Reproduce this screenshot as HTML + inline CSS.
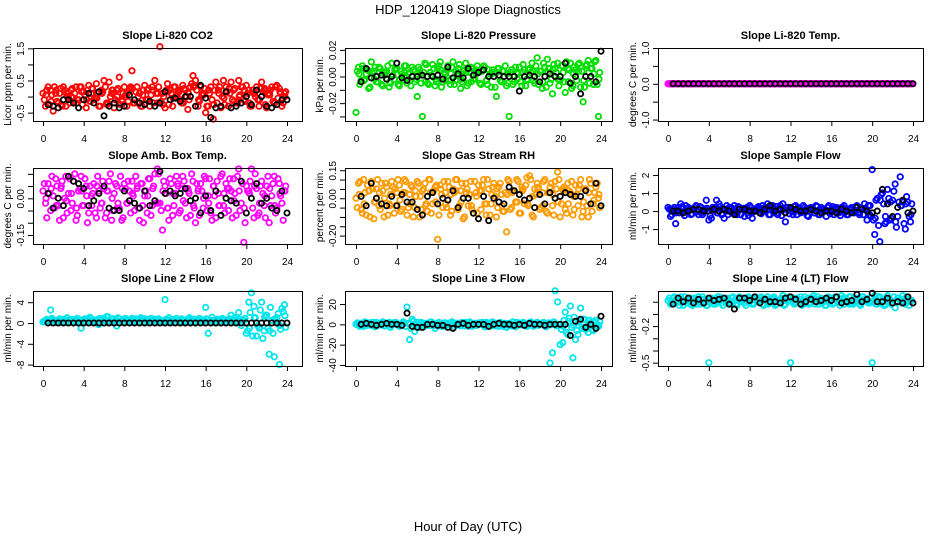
<!DOCTYPE html>
<html><head><meta charset="utf-8"><style>
html,body{margin:0;padding:0;background:#fff;}
svg{display:block;font-family:"Liberation Sans",Arial,sans-serif;}
</style></head><body>
<svg id="chart" width="936" height="540" viewBox="0 0 936 540">
<text x="468" y="14" font-size="13" text-anchor="middle">HDP_120419  Slope Diagnostics</text>
<text x="468" y="531" font-size="13" text-anchor="middle">Hour of Day (UTC)</text>
</svg>
<script>
// ---- data ----
const xTicks = [0,4,8,12,16,20,24];
const xTickLabels = ["0","4","8","12","16","20","24"];

const co2Main = [0.1,-0.3,0.3,0.2,-0.45,0.1,-0.2,0.25,0.3,-0.3,0.0,0.2,-0.2,0.3,-0.1,0.3,0.15,-0.35,0.35,0.1,-0.1,0.4,-0.3,0.2,0.5,-0.2,0.45,0.1,-0.35,0.2,0.6,-0.1,0.3,-0.3,0.25,0.8,-0.2,0.3,0.1,-0.3,0.35,0.2,-0.3,0.3,0.5,-0.2,1.55,0.1,-0.35,0.4,0.2,-0.3,0.3,0.1,-0.1,0.35,0.2,-0.4,0.3,0.65,0.5,-0.3,0.3,0.1,-0.5,-0.3,0.3,-0.7,0.45,0.2,-0.35,0.5,0.3,-0.3,0.45,0.2,-0.2,0.5,0.3,-0.1,0.35,0.2,-0.3,0.1,0.3,-0.3,0.45,0.2,-0.35,0.1,0.3,-0.2,0.35,0.25,-0.3,0.1];
const co2Band = [0.05,-0.15,0.2,-0.25,0.1,0.0,-0.2,0.15,-0.1,0.25,-0.05,0.1,-0.25,0.2,0.0,-0.15,0.1,0.25,-0.2,0.05,-0.1,0.2,0.1,-0.25,0.15,-0.05,0.2,-0.2,0.1,0.3,-0.1,0.05,0.2,-0.25,0.1,-0.05,0.25,-0.15,0.0,0.2,-0.2,0.1,-0.1,0.25,0.05,-0.2,0.15,0.0];
const co2Dense = [-0.1,0.2,-0.25,0.05,0.3,-0.15,0.1,-0.3,0.2,0.0,-0.2,0.25,0.1,-0.1,0.3,-0.25,0.05,0.2,-0.15,0.25,-0.05,0.1,-0.3,0.15,0.3,-0.2,0.0,0.2,-0.1,0.25,-0.25,0.1,0.05,-0.15,0.3,-0.2,0.15,0.0,-0.3,0.2,-0.1,0.25,0.05,-0.2,0.1,0.3,-0.15,0.0,0.2,-0.25,0.1,0.3,-0.05,0.15,-0.2,0.25,0.0,-0.1,0.4,0.35,0.2,-0.15,0.05,0.25,-0.3,0.1,-0.1,0.2,-0.2,0.3,0.0,-0.25,0.15,0.1,-0.1,0.25,-0.2,0.05,0.3,-0.15,0.1,-0.3,0.2,0.0,-0.1,0.25,0.15,-0.25,0.05,0.2,-0.15,0.3,-0.05,0.1,-0.2,0.15];
const co2Black = [-0.25,-0.3,-0.35,-0.1,-0.1,-0.2,-0.35,-0.1,0.1,-0.2,0.15,-0.6,-0.3,-0.2,-0.35,-0.3,0.05,-0.1,-0.2,-0.25,-0.15,-0.3,-0.2,0.15,-0.1,-0.05,-0.15,0.0,0.0,-0.3,0.35,-0.05,-0.65,-0.35,-0.3,0.15,-0.35,-0.3,-0.2,0.0,-0.25,0.2,0.0,-0.3,-0.35,-0.25,-0.1,-0.1];

const presMain = [-0.027,0.007,-0.003,0.006,0.002,-0.009,0.011,0.004,-0.004,0.007,-0.006,0.003,0.004,-0.008,0.010,-0.002,0.006,-0.007,0.002,0.008,-0.005,0.003,0.007,-0.004,-0.015,0.005,-0.030,0.010,-0.005,0.003,0.009,-0.007,0.006,0.011,-0.004,0.002,0.008,-0.006,0.011,-0.003,0.006,-0.009,0.004,0.010,-0.005,0.007,-0.002,0.005,0.004,-0.006,0.008,-0.003,0.005,-0.008,0.003,-0.015,0.006,-0.004,0.004,-0.007,-0.030,0.005,-0.004,0.003,0.007,-0.007,0.005,-0.002,0.006,0.010,-0.005,0.014,0.004,-0.009,0.007,0.013,-0.005,-0.013,0.006,0.010,-0.003,0.008,-0.012,0.006,0.010,-0.007,0.005,0.009,-0.008,-0.019,0.008,0.012,0.006,-0.006,0.012,-0.030];
const presBand = [0.002,-0.003,0.004,-0.002,0.003,0.001,-0.004,0.005,-0.002,0.003,-0.003,0.004,0.002,-0.004,0.003,-0.002,0.005,-0.003,0.002,0.004,-0.002,0.003,-0.004,0.002,0.004,-0.003,0.002,0.003,-0.004,0.002,0.005,-0.002,0.003,-0.003,0.004,0.002,-0.004,0.003,0.005,-0.002,0.003,-0.004,0.002,0.004,-0.003,0.003,0.002,-0.002];
const presDense = [0.004,-0.006,0.008,-0.002,0.005,-0.008,0.002,0.007,-0.004,0.006,-0.007,0.003,0.008,-0.005,0.001,0.006,-0.006,0.004,-0.003,0.008,0.002,-0.007,0.005,-0.002,0.007,-0.005,0.003,0.009,-0.006,0.001,0.006,-0.004,0.008,-0.008,0.003,0.005,-0.003,0.007,-0.006,0.002,0.009,-0.004,0.005,-0.007,0.003,0.006,-0.002,0.008,-0.005,0.004,0.007,-0.006,0.002,0.005,-0.008,0.006,-0.003,0.004,0.008,-0.005,0.003,-0.006,0.007,0.002,-0.004,0.009,-0.007,0.005,0.003,-0.003,0.008,-0.006,0.004,0.010,-0.008,0.006,-0.002,0.009,0.003,-0.007,0.008,-0.004,0.011,0.005,-0.009,0.007,-0.003,0.010,0.004,-0.008,0.009,-0.005,0.006,0.011,-0.006,0.003];
const presBlack = [-0.004,0.006,-0.001,0.000,0.001,-0.002,0.000,0.010,-0.001,-0.003,0.000,0.000,0.001,0.000,0.000,0.001,-0.002,0.007,-0.001,0.002,-0.001,0.006,0.001,0.003,0.005,0.000,0.000,0.001,0.000,0.000,0.000,-0.011,0.000,0.001,0.000,-0.004,0.000,0.002,0.000,0.000,0.010,-0.005,0.000,-0.013,0.000,0.000,-0.004,0.019];

const tempMain = [0,0,0,0,0,0,0,0,0,0,0,0,0,0,0,0,0,0,0,0,0,0,0,0,0,0,0,0,0,0,0,0,0,0,0,0,0,0,0,0,0,0,0,0,0,0,0,0,0,0,0,0,0,0,0,0,0,0,0,0,0,0,0,0,0,0,0,0,0,0,0,0,0,0,0,0,0,0,0,0,0,0,0,0,0,0,0,0,0,0,0,0,0,0,0,0];
const tempBand = [0,0,0,0,0,0,0,0,0,0,0,0,0,0,0,0,0,0,0,0,0,0,0,0,0,0,0,0,0,0,0,0,0,0,0,0,0,0,0,0,0,0,0,0,0,0,0,0];
const tempDense = [0,0,0,0,0,0,0,0,0,0,0,0,0,0,0,0,0,0,0,0,0,0,0,0,0,0,0,0,0,0,0,0,0,0,0,0,0,0,0,0,0,0,0,0,0,0,0,0,0,0,0,0,0,0,0,0,0,0,0,0,0,0,0,0,0,0,0,0,0,0,0,0,0,0,0,0,0,0,0,0,0,0,0,0,0,0,0,0,0,0,0,0,0,0,0,0];
const tempBlack = [0,0,0,0,0,0,0,0,0,0,0,0,0,0,0,0,0,0,0,0,0,0,0,0,0,0,0,0,0,0,0,0,0,0,0,0,0,0,0,0,0,0,0,0,0,0,0,0];

const boxMain = [0.03,-0.02,0.06,-0.05,0.01,0.08,-0.03,0.04,-0.08,0.09,0.02,-0.05,0.07,-0.09,0.03,0.09,-0.03,0.05,-0.06,0.01,0.06,-0.08,0.03,-0.02,0.04,-0.06,0.07,-0.09,0.02,0.05,-0.04,-0.09,0.06,-0.02,0.03,0.07,-0.05,0.04,-0.09,0.06,0.01,-0.06,0.08,-0.03,0.10,0.12,-0.02,-0.13,0.05,-0.04,0.08,-0.07,0.02,0.06,-0.05,0.09,-0.02,0.04,-0.07,0.07,-0.10,0.03,0.06,-0.04,0.08,0.01,-0.06,0.05,-0.08,0.02,0.09,-0.03,0.06,-0.05,0.03,0.08,-0.07,0.12,-0.02,-0.18,0.05,0.03,0.12,-0.08,0.04,-0.06,0.07,-0.03,0.05,-0.10,0.01,0.09,-0.04,0.06,-0.02,0.03];
const boxBand = [0.00,0.04,-0.03,0.05,-0.01,0.02,-0.04,0.03,0.01,-0.03,0.05,-0.02,0.03,0.00,-0.04,0.04,-0.02,0.02,0.05,-0.03,0.01,0.04,-0.02,0.03,-0.04,0.02,0.05,-0.01,0.03,-0.03,0.04,0.00,-0.02,0.05,-0.03,0.02,0.04,-0.01,0.03,-0.04,0.02,0.05,-0.02,0.01,0.04,-0.03,0.02,0.03];
const boxDense = [0.06,-0.08,0.02,0.09,-0.04,0.05,-0.09,0.07,0.0,-0.06,0.08,-0.02,0.1,-0.07,0.04,-0.03,0.08,-0.1,0.05,0.02,-0.06,0.09,-0.04,0.07,-0.08,0.03,0.1,-0.05,0.06,-0.02,0.09,-0.08,0.04,0.07,-0.06,0.01,0.09,-0.04,0.06,-0.1,0.03,0.08,-0.07,0.05,-0.02,0.1,-0.05,0.07,0.02,-0.09,0.06,-0.03,0.09,-0.06,0.04,0.07,-0.08,0.02,0.1,-0.04,0.06,-0.07,0.03,0.09,-0.05,0.08,-0.09,0.01,0.07,-0.03,0.1,-0.06,0.04,0.08,-0.08,0.02,0.09,-0.05,0.06,-0.1,0.03,0.07,-0.04,0.1,-0.07,0.05,0.02,-0.08,0.09,-0.03,0.06,-0.06,0.08,0.01,-0.09,0.05];
const boxBlack = [0.02,-0.04,0.00,-0.03,0.09,0.07,0.06,0.04,-0.03,-0.01,0.02,0.05,-0.04,-0.05,-0.05,0.03,-0.01,-0.02,-0.04,0.03,-0.03,-0.01,0.11,0.02,0.03,0.01,0.02,0.04,-0.01,0.00,-0.06,0.01,-0.05,0.03,-0.07,0.00,-0.01,-0.02,0.07,-0.06,0.00,0.06,-0.02,0.00,-0.04,-0.05,0.03,-0.06];

const rhMain = [0.00,0.08,-0.06,0.10,-0.09,0.04,0.09,-0.11,0.05,-0.04,0.08,-0.10,0.06,-0.03,0.09,-0.08,0.03,0.07,-0.06,0.10,-0.09,0.02,0.06,-0.05,0.09,-0.10,0.04,0.08,-0.07,0.10,-0.03,0.06,-0.22,0.07,-0.05,0.03,0.09,-0.09,0.05,0.10,-0.06,0.04,-0.11,0.08,-0.04,0.09,-0.08,0.03,0.07,-0.06,0.10,-0.09,0.05,-0.03,0.08,-0.10,0.06,0.02,-0.07,-0.18,0.09,-0.05,0.04,0.10,-0.08,0.06,-0.03,0.11,0.12,-0.09,0.05,0.08,-0.06,0.03,0.10,-0.08,0.06,-0.04,0.09,0.14,-0.10,0.05,-0.06,0.08,0.03,-0.09,0.07,-0.04,0.10,-0.07,0.05,-0.10,0.08,-0.03,0.06,0.00];
const rhBand = [0.02,-0.03,0.04,-0.02,0.03,0.00,-0.04,0.05,-0.01,0.03,-0.03,0.04,0.01,-0.04,0.03,-0.02,0.05,-0.03,0.02,0.04,-0.02,0.03,-0.04,0.01,0.04,-0.03,0.02,0.05,-0.04,0.02,0.03,-0.02,0.04,-0.03,0.01,0.05,-0.04,0.03,0.02,-0.02,0.04,-0.03,0.01,0.05,-0.02,0.03,-0.01,0.02];
const rhDense = [-0.05,0.09,-0.08,0.03,0.07,-0.1,0.05,-0.02,0.1,-0.06,0.04,0.08,-0.09,0.02,0.06,-0.04,0.1,-0.07,0.03,0.09,-0.05,0.07,-0.1,0.01,0.08,-0.06,0.05,-0.03,0.1,-0.08,0.04,0.07,-0.09,0.02,0.09,-0.05,0.06,-0.07,0.03,0.1,-0.04,0.08,-0.1,0.05,0.02,-0.06,0.09,-0.08,0.04,0.07,-0.03,0.1,-0.09,0.06,0.01,-0.05,0.08,-0.07,0.03,0.1,-0.06,0.04,-0.02,0.09,-0.08,0.05,0.07,-0.04,0.1,-0.1,0.02,0.06,-0.05,0.09,-0.07,0.03,0.08,-0.09,0.05,0.1,-0.03,0.06,-0.08,0.04,0.09,-0.06,0.02,0.07,-0.1,0.05,-0.04,0.1,-0.07,0.03,0.08,-0.05];
const rhBlack = [0.01,-0.04,0.08,0.00,-0.03,-0.04,0.01,-0.04,0.02,-0.02,-0.02,-0.06,-0.09,0.01,0.03,-0.03,0.00,-0.01,0.04,-0.05,0.00,0.00,-0.08,-0.11,0.01,-0.12,0.00,-0.02,-0.03,0.06,0.04,0.02,-0.01,0.00,-0.05,0.02,-0.03,0.03,0.00,0.01,0.03,0.02,0.01,0.01,0.04,-0.03,0.08,-0.04];

const flowMain = [0.2,-0.3,0.1,-0.7,0.2,0.4,-0.1,0.3,0.2,-0.2,0.1,0.3,-0.2,0.2,0.1,0.6,-0.5,-0.4,0.2,0.6,0.4,-0.2,-0.4,0.3,0.2,-0.1,0.3,-0.2,0.2,0.1,-0.3,0.2,0.3,-0.4,0.1,0.2,-0.1,0.3,0.2,0.4,-0.2,0.3,0.1,-0.2,0.3,0.4,-0.6,0.2,0.1,-0.2,0.3,0.2,-0.1,0.3,0.1,-0.3,0.2,0.1,0.3,-0.2,0.2,0.1,-0.3,0.3,0.1,-0.2,0.2,-0.1,0.2,0.3,-0.2,0.1,0.2,-0.1,0.3,-0.2,0.1,0.4,-0.5,-0.2,2.3,-1.3,0.7,-1.7,1.0,-0.7,1.2,-0.5,0.6,1.5,-0.3,1.9,0.5,-1.0,0.5,-0.6];
const flowBand = [0.1,-0.1,0.15,-0.05,0.1,0.0,-0.1,0.15,0.05,-0.1,0.1,0.0,0.15,-0.05,0.1,-0.1,0.05,0.15,-0.05,0.1,0.0,-0.1,0.15,0.05,-0.05,0.1,0.0,0.15,-0.1,0.05,0.1,-0.05,0.15,0.0,-0.1,0.1,0.05,-0.05,0.15,0.3,-0.4,0.6,-0.3,0.5,-0.6,0.3,0.4,-0.2];
const flowDense = [0.1,-0.2,0.2,0.0,-0.1,0.25,-0.25,0.15,0.05,-0.15,0.2,-0.05,0.25,-0.2,0.1,0.0,-0.25,0.2,0.05,-0.1,0.25,-0.15,0.1,-0.2,0.2,0.0,-0.1,0.25,-0.2,0.15,0.05,-0.25,0.2,-0.05,0.1,0.25,-0.15,0.0,0.2,-0.2,0.15,-0.1,0.25,0.05,-0.25,0.1,0.2,-0.15,0.0,0.25,-0.2,0.1,-0.05,0.2,-0.25,0.15,0.05,-0.1,0.25,-0.2,0.1,0.0,0.2,-0.15,0.25,-0.05,0.1,-0.25,0.2,0.05,-0.2,0.15,0.0,0.25,-0.1,0.2,-0.2,0.1,0.3,-0.3,-0.5,0.6,-0.8,0.9,0.4,-0.6,0.7,-0.4,1.1,-0.9,0.5,0.3,-0.7,0.8,-0.3,0.4];
const flowBlack = [0.0,0.0,-0.1,0.0,0.1,0.1,0.0,0.0,0.1,0.0,0.1,0.0,-0.2,0.1,0.1,0.0,0.0,-0.1,0.1,0.3,0.0,0.1,-0.1,0.2,0.1,0.0,0.0,0.1,0.0,-0.1,0.0,0.0,-0.1,0.1,0.0,-0.1,0.2,0.1,0.0,-0.1,0.0,1.2,0.4,-0.3,0.2,0.6,-0.1,0.0];

const line2Main = [0.2,0.4,0.1,2.5,0.6,0.2,0.5,0.3,0.7,0.1,0.5,0.4,0.3,0.6,0.2,-1.0,0.5,0.3,0.8,0.2,0.6,0.4,-0.3,0.5,0.9,1.2,0.4,0.7,0.3,-0.6,0.8,0.5,0.2,0.6,0.4,0.9,0.3,0.5,0.7,0.2,0.8,0.4,0.6,0.3,0.7,0.5,0.2,0.4,4.5,0.6,0.3,0.7,0.2,0.5,0.4,0.6,0.3,0.5,0.2,0.7,0.4,0.3,0.6,0.2,3.0,-2.0,0.5,0.3,0.6,0.4,0.2,0.5,0.3,0.4,1.5,0.2,0.6,2.0,-0.5,0.4,-2.0,4.0,5.8,3.2,-2.5,-1.0,4.0,-1.5,1.5,-6.0,0.5,-6.5,1.0,-8.0,2.8,3.5];
const line2Band = [0.3,0.5,0.1,0.4,0.6,0.2,0.5,0.3,0.7,0.4,0.2,0.6,0.3,0.8,0.4,0.5,0.2,0.6,0.3,0.7,0.4,0.5,0.6,0.2,0.4,0.6,0.3,0.5,0.7,0.2,0.4,0.6,0.3,0.5,0.2,0.7,0.4,0.6,0.3,0.5,-1.0,1.0,-0.8,1.2,-1.5,0.8,-0.5,1.4];
const line2Dense = [0.4,0.7,0.2,0.9,0.5,0.1,0.8,0.3,0.6,1.0,0.2,0.7,0.4,0.9,0.1,0.6,0.8,0.3,1.1,0.5,0.2,0.7,0.9,0.4,0.6,1.2,0.3,0.8,0.5,1.0,0.2,0.7,0.9,0.4,0.6,0.1,0.8,0.5,1.0,0.3,0.7,0.2,0.9,0.6,0.4,0.8,0.1,0.5,0.7,1.0,0.3,0.6,0.9,0.2,0.8,0.4,0.6,1.0,0.3,0.7,0.5,0.9,0.2,0.6,0.8,0.4,1.1,0.3,0.7,0.5,0.9,0.2,0.6,0.8,0.4,1.0,0.3,0.7,0.5,0.9,-1.5,2.0,-2.5,1.0,-0.5,2.5,-3.0,1.5,-1.0,3.0,-2.0,0.5,1.8,-1.2,2.2,-0.8];
const line2Black = [0,0,0,0,0,0,0,0,0,0,0,0,0,0,0,0,0,0,0,0,0,0,0,0,0,0,0,0,0,0,0,0,0,0,0,0,0,0,0,0,0,0,0,0,0,0,0,0];

const line3Main = [0.0,-1.0,1.0,-2.0,0.5,1.5,-1.0,0.0,2.0,-0.5,1.0,-1.5,0.5,2.0,-1.0,0.5,1.0,-2.0,0.0,1.5,17.0,-15.0,5.0,-7.0,2.0,-3.0,1.0,0.0,-1.0,2.0,0.5,-4.0,1.0,0.0,-2.0,1.5,0.5,-1.0,2.0,0.0,1.0,-1.5,0.5,2.0,-2.0,1.0,0.0,-1.0,1.5,0.5,-1.0,2.0,0.0,-1.5,1.0,0.5,-2.0,0.0,1.0,-3.0,1.0,-1.5,0.5,2.0,-0.5,1.0,0.0,-2.0,1.5,0.5,-1.0,2.0,0.0,1.0,-1.5,0.5,-38.0,-28.0,33.0,22.0,-20.0,-18.0,12.0,-10.0,18.0,-33.0,-15.0,-10.0,16.0,5.0,-5.0,-8.0,2.0,-6.0,4.0,-2.0];
const line3Band = [0.5,-0.5,1.0,-1.0,0.0,1.5,-0.5,0.5,-1.0,1.0,0.0,-0.5,0.5,1.0,-1.0,0.0,0.5,-0.5,1.0,0.0,-1.0,0.5,1.0,-0.5,0.0,0.5,-1.0,1.0,0.5,-0.5,0.0,1.0,-0.5,0.5,-1.0,0.0,1.0,-0.5,0.5,0.0,-2.0,3.0,-1.0,2.0,-3.0,1.0,2.0,-1.0];
const line3Dense = [1.5,-2.0,0.5,2.5,-1.0,0.0,2.0,-2.5,1.0,-0.5,2.5,-1.5,0.5,-3.0,1.5,2.0,-1.0,0.0,2.5,-2.0,1.0,-4.0,3.0,-1.5,0.5,2.0,-2.5,1.0,-0.5,2.5,-1.5,0.0,2.0,-2.0,1.5,-1.0,0.5,2.5,-2.5,1.0,-0.5,2.0,-1.5,0.0,2.5,-2.0,1.0,-1.0,0.5,2.0,-2.5,1.5,-0.5,2.5,-1.5,0.0,2.0,-2.0,1.0,-1.0,0.5,2.5,-2.5,1.5,-0.5,2.0,-1.5,0.0,2.5,-2.0,1.0,-1.0,0.5,2.0,-2.5,1.5,-0.5,2.5,-1.5,0.0,-5.0,4.0,-8.0,6.0,-3.0,7.0,-6.0,3.0,-4.0,5.0,-2.0,4.0,-5.0,2.0,-3.0,3.0];
const line3Black = [0,1,0,-1,0,1,0,0,-1,11,-2,-3,-3,0,0,-1,-1,-3,-4,0,1,-1,0,0,0,-2,0,1,0,0,-1,0,-1,1,0,0,-1,0,0,0,0,-11,3,5,-3,0,-4,8];

const line4Main = [0.01,-0.02,0.03,-0.01,0.02,0.04,-0.03,0.01,0.03,-0.02,0.02,0.00,0.04,-0.01,0.02,-0.03,-0.50,0.03,-0.02,0.02,0.04,-0.01,0.03,0.00,-0.02,0.03,0.01,-0.03,0.04,0.02,-0.01,0.03,0.00,-0.02,0.04,0.01,0.03,-0.02,0.02,0.04,-0.01,0.03,-0.03,0.01,0.02,0.05,-0.02,0.01,-0.50,0.03,-0.01,0.02,0.04,-0.02,0.01,0.03,-0.01,0.05,0.02,-0.02,0.03,0.01,-0.03,0.04,0.02,-0.01,0.03,0.00,0.05,-0.02,0.02,0.04,-0.01,0.03,0.01,-0.02,0.04,0.02,0.00,0.03,-0.50,0.05,-0.02,0.04,0.01,-0.03,0.05,0.02,-0.01,-0.05,0.03,0.01,0.05,-0.02,0.02,0.00];
const line4Band = [0.0,0.02,-0.01,0.01,0.03,-0.02,0.02,0.0,0.01,-0.01,0.03,0.02,-0.02,0.01,0.0,0.02,-0.01,0.03,0.01,-0.02,0.02,0.0,0.01,0.03,-0.01,0.02,0.0,-0.02,0.03,0.01,0.0,0.02,-0.01,0.01,0.03,-0.02,0.02,0.0,0.01,-0.01,0.02,0.03,-0.02,0.01,0.0,0.02,-0.01,0.01];
const line4Dense = [0.03,-0.02,0.04,0.0,-0.03,0.02,0.04,-0.01,0.01,-0.03,0.03,0.02,-0.02,0.04,0.0,-0.03,0.03,0.01,-0.02,0.04,0.02,-0.03,0.01,0.03,-0.01,0.04,-0.02,0.02,0.0,0.03,-0.03,0.04,0.01,-0.02,0.03,0.0,0.04,-0.03,0.02,-0.01,0.03,0.04,-0.02,0.01,0.03,-0.03,0.02,0.04,0.0,-0.02,0.03,0.01,-0.03,0.04,0.02,-0.01,0.03,-0.02,0.04,0.0,0.02,-0.03,0.03,0.01,-0.02,0.04,0.0,-0.03,0.03,0.02,-0.01,0.04,-0.02,0.01,0.03,-0.03,0.04,0.02,-0.01,0.03,0.0,-0.02,0.04,0.01,-0.03,0.03,0.02,-0.02,0.04,0.0,0.03,-0.01,0.02,0.04,-0.03,0.01];
const line4Black = [-0.02,0.03,0.0,0.03,-0.01,0.02,-0.01,0.03,0.01,0.02,0.03,-0.02,-0.06,0.03,0.03,0.01,0.04,-0.01,0.02,0.0,0.0,-0.01,0.03,0.04,0.02,-0.02,0.0,0.02,0.0,0.01,0.03,0.01,0.04,-0.01,0.0,0.01,0.06,0.0,0.02,0.07,0.0,0.0,0.03,-0.01,0.0,-0.01,0.04,-0.01];

// ---- layout ----
const NS = "http://www.w3.org/2000/svg";
const svg = document.getElementById('chart');
const cols = [{l:33,r:302,h0:43,h24:287},{l:345,r:612,h0:356,h24:601},{l:658,r:923,h0:668,h24:913}];
const rows = [{t:48,b:121},{t:168,b:244},{t:291,b:366}];
const panels = [
 {key:'co2',title:'Slope Li-820 CO2',ylab:'Licor ppm per min.',top:1.51,bot:-0.76,ticks:[-0.5,0,0.5,1,1.5],labs:['-0.5','','0.5','','1.5'],color:'#ff0000',main:co2Main,band:co2Band,dense:co2Dense,black:co2Black},
 {key:'pressure',title:'Slope Li-820 Pressure',ylab:'kPa per min.',top:0.0214,bot:-0.0334,ticks:[0.02,0.01,0,-0.01,-0.02,-0.03],labs:['0.02','','0.00','','-0.02',''],color:'#00dd00',main:presMain,band:presBand,dense:presDense,black:presBlack},
 {key:'li820-temp',title:'Slope Li-820 Temp.',ylab:'degrees C per min.',top:1.0,bot:-1.04,ticks:[-1,-0.5,0,0.5,1],labs:['-1.0','','0.0','','1.0'],color:'#ff00ff',main:tempMain,band:tempBand,dense:tempDense,black:tempBlack},
 {key:'box-temp',title:'Slope Amb. Box Temp.',ylab:'degrees C per min.',top:0.124,bot:-0.187,ticks:[0.1,0.05,0,-0.05,-0.1,-0.15],labs:['','','0.00','','','-0.15'],color:'#ff00ff',main:boxMain,band:boxBand,dense:boxDense,black:boxBlack},
 {key:'rh',title:'Slope Gas Stream RH',ylab:'percent per min.',top:0.162,bot:-0.245,ticks:[0.15,0.1,0.05,0,-0.05,-0.1,-0.15,-0.2],labs:['0.15','','','0.00','','','','-0.20'],color:'#ff9a00',main:rhMain,band:rhBand,dense:rhDense,black:rhBlack},
 {key:'sample-flow',title:'Slope Sample Flow',ylab:'ml/min per min.',top:2.39,bot:-1.83,ticks:[-1,0,1,2],labs:['-1','0','1','2'],color:'#0000ff',main:flowMain,band:flowBand,dense:flowDense,black:flowBlack},
 {key:'line2',title:'Slope Line 2 Flow',ylab:'ml/min per min.',top:6.15,bot:-8.27,ticks:[4,0,-4,-8],labs:['4','0','-4','-8'],color:'#00e5ee',main:line2Main,band:line2Band,dense:line2Dense,black:line2Black},
 {key:'line3',title:'Slope Line 3 Flow',ylab:'ml/min per min.',top:32.8,bot:-41,ticks:[20,0,-20,-40],labs:['20','0','-20','-40'],color:'#00e5ee',main:line3Main,band:line3Band,dense:line3Dense,black:line3Black},
 {key:'line4',title:'Slope Line 4 (LT) Flow',ylab:'ml/min per min.',top:0.088,bot:-0.527,ticks:[0,-0.1,-0.2,-0.3,-0.4,-0.5],labs:['','','-0.2','','','-0.5'],color:'#00e5ee',main:line4Main,band:line4Band,dense:line4Dense,black:line4Black}
];

function mk(tag, attrs, parent){
  const e = document.createElementNS(NS, tag);
  for (const k in attrs) e.setAttribute(k, attrs[k]);
  (parent||svg).appendChild(e);
  return e;
}

panels.forEach((p, i) => {
  const c = cols[i % 3], r = rows[Math.floor(i / 3)];
  const xs = h => c.h0 + (h / 24) * (c.h24 - c.h0);
  const ys = v => r.t + (p.top - v) / (p.top - p.bot) * (r.b - r.t);
  const g = mk('g', {});
  
  

  const t = mk('text', {x:(c.l + c.r) / 2, y:r.t - 9, 'font-size':11, 'font-weight':'bold', 'text-anchor':'middle'}, g);
  t.textContent = p.title;
  
  

  const yl = mk('text', {x:0, y:0, 'font-size':10, 'text-anchor':'middle', transform:'translate(' + (c.l - 22) + ',' + ((r.t + r.b) / 2) + ') rotate(-90)'}, g);
  yl.textContent = p.ylab;
  
  

  const pts = mk('g', {fill:'none', 'stroke-width':1.8}, g);
  
  
  p.main.forEach((v, k) => {
    const cc = mk('circle', {cx:xs(k * 0.25), cy:ys(v), r:2.7, stroke:p.color}, pts);
    
    
  });
  p.dense.forEach((v, k) => {
    const cc = mk('circle', {cx:xs(k * 0.25 + 0.125), cy:ys(v), r:2.7, stroke:p.color}, pts);
    
    
  });
  p.band.forEach((v, k) => {
    const cc = mk('circle', {cx:xs(k * 0.5 + 0.3), cy:ys(v), r:2.7, stroke:p.color}, pts);
    
    
  });
  p.black.forEach((v, k) => {
    const cc = mk('circle', {cx:xs(k * 0.5 + 0.5), cy:ys(v), r:2.6, stroke:'#000'}, pts);
    
    
  });

  const bx = mk('rect', {x:c.l + 0.5, y:r.t + 0.5, width:c.r - c.l, height:r.b - r.t, fill:'none', stroke:'#000', 'stroke-width':1}, g);
  
  

  const xa = mk('g', {stroke:'#000', 'stroke-width':1}, g);
  
  
  mk('line', {x1:xs(xTicks[0]), x2:xs(xTicks[xTicks.length - 1]), y1:r.b + 0.5, y2:r.b + 0.5}, xa);
  xTicks.forEach((h, k) => {
    mk('line', {x1:xs(h) + 0.5, x2:xs(h) + 0.5, y1:r.b, y2:r.b + 5}, xa);
    const tl = mk('text', {x:xs(h) + 0.5, y:r.b + 21, 'font-size':10, 'text-anchor':'middle', stroke:'none'}, xa);
    tl.textContent = xTickLabels[k];
    
    
  });

  const ya = mk('g', {stroke:'#000', 'stroke-width':1}, g);
  
  
  const yv = p.ticks.map(ys);
  mk('line', {x1:c.l + 0.5, x2:c.l + 0.5, y1:Math.min(...yv), y2:Math.max(...yv)}, ya);
  p.ticks.forEach((v, k) => {
    mk('line', {x1:c.l - 5, x2:c.l, y1:ys(v) + 0.5, y2:ys(v) + 0.5}, ya);
    if (p.labs[k]) {
      const tl = mk('text', {x:0, y:0, 'font-size':10, 'text-anchor':'middle', stroke:'none', transform:'translate(' + (c.l - 9) + ',' + (ys(v) + 0.5) + ') rotate(-90)'}, ya);
      tl.textContent = p.labs[k];
      
      
    }
  });
});
</script>
</body></html>
